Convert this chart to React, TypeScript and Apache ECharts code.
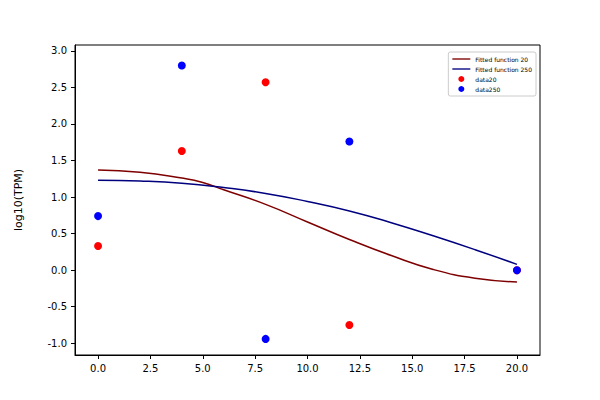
import React, { useEffect, useRef } from "react";
import * as echarts from "echarts";

const xFit = [0, 2, 4, 5, 6, 8, 10, 12, 14, 16, 18, 20];
const fit20 = [1.37, 1.34, 1.26, 1.2, 1.1, 0.9, 0.66, 0.42, 0.2, 0.01, -0.11, -0.16];
const xFit250 = [0, 2, 4, 6, 8, 10, 12, 14, 16, 18, 20];
const fit250 = [1.23, 1.22, 1.19, 1.13, 1.05, 0.94, 0.81, 0.65, 0.47, 0.28, 0.08];
const xData = [0, 4, 8, 12, 20];
const data20 = [0.33, 1.63, 2.57, -0.75, 0.0];
const data250 = [0.74, 2.8, -0.94, 1.76, 0.0];
const xTicks = [0, 2.5, 5, 7.5, 10, 12.5, 15, 17.5, 20];
const yTicks = [-1, -0.5, 0, 0.5, 1, 1.5, 2, 2.5, 3];

export default function App() {
  const ref = useRef<HTMLDivElement>(null);
  useEffect(() => {
    const chart = echarts.init(ref.current!, null, { renderer: "svg" });
    const axisCommon = {
      axisLine: { onZero: false, lineStyle: { color: "#000" } },
      axisTick: { inside: false, length: 4, lineStyle: { color: "#000" } },
      axisLabel: { color: "#000", fontSize: 10, fontFamily: "DejaVu Sans" },
      splitLine: { show: false },
    };
    const lineIcon = "path://M0,0 L20,0 L20,1.5 L0,1.5 Z";
    chart.setOption({
      animation: false,
      grid: { left: 75, right: 60, top: 45, bottom: 45, show: true, borderColor: "#000", borderWidth: 1 },
      xAxis: {
        type: "value", min: -1.1, max: 21.1, ...axisCommon,
        axisTick: { ...axisCommon.axisTick, customValues: xTicks },
        axisLabel: { ...axisCommon.axisLabel, customValues: xTicks, formatter: (v: number) => v.toFixed(1) },
      },
      yAxis: {
        type: "value", min: -1.16, max: 3.08, ...axisCommon,
        name: "log10(TPM)", nameLocation: "middle", nameGap: 51,
        nameTextStyle: { color: "#000", fontSize: 11, fontFamily: "DejaVu Sans" },
        axisTick: { ...axisCommon.axisTick, customValues: yTicks },
        axisLabel: { ...axisCommon.axisLabel, customValues: yTicks, formatter: (v: number) => v.toFixed(1) },
      },
      legend: {
        orient: "vertical", right: 64, top: 52, itemGap: 4, itemWidth: 18, itemHeight: 6,
        borderColor: "#ccc", borderWidth: 1, borderRadius: 2, padding: [4, 4],
        textStyle: { fontSize: 6, fontFamily: "DejaVu Sans", color: "#000" },
        data: [
          { name: "Fitted function 20", icon: lineIcon, itemStyle: { borderWidth: 0 } },
          { name: "Fitted function 250", icon: lineIcon, itemStyle: { borderWidth: 0 } },
          { name: "data20", icon: "circle" },
          { name: "data250", icon: "circle" },
        ],
      },
      series: [
        { name: "Fitted function 20", type: "line", smooth: true, showSymbol: false, color: "#7f0000",
          lineStyle: { width: 1.5 }, data: xFit.map((x, i) => [x, fit20[i]]) },
        { name: "Fitted function 250", type: "line", smooth: true, showSymbol: false, color: "#00007f",
          lineStyle: { width: 1.5 }, data: xFit250.map((x, i) => [x, fit250[i]]) },
        { name: "data20", type: "scatter", symbolSize: 8, color: "#ff0000", itemStyle: { opacity: 1 },
          data: xData.map((x, i) => [x, data20[i]]) },
        { name: "data250", type: "scatter", symbolSize: 8, color: "#0000ff", itemStyle: { opacity: 1 },
          data: xData.map((x, i) => [x, data250[i]]) },
      ],
    });
    return () => chart.dispose();
  }, []);
  return <div ref={ref} style={{ width: 600, height: 400, margin: -8 }} />;
}
